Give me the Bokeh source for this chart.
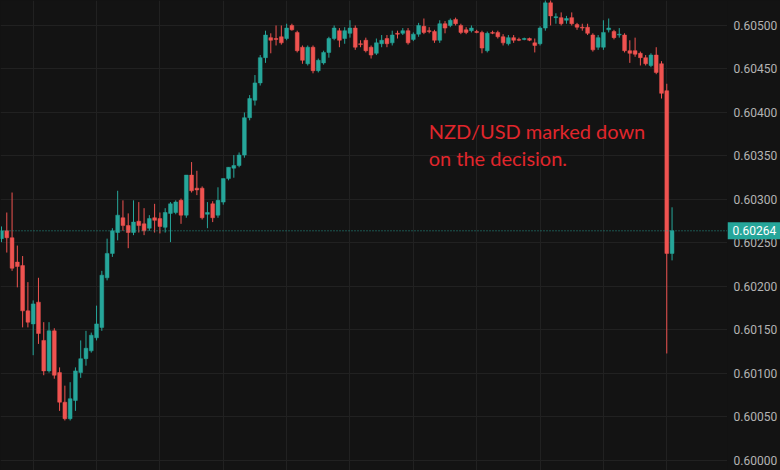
from bokeh.plotting import figure
from bokeh.layouts import row
from bokeh.models import ColumnDataSource, FixedTicker, Span, Label, Range1d
from bokeh.core.properties import value
from bokeh.embed import file_html
from bokeh.resources import INLINE

# ---- data (NZD/USD, 5-minute candles) ----
opens = [
    0.60255, 0.60264, 0.60256, 0.60228, 0.60224, 0.60172, 0.60157, 0.60182, 0.60138, 0.60103,
    0.60149, 0.60101, 0.60067, 0.60048, 0.60069, 0.60101, 0.60117, 0.60126, 0.60141, 0.60153,
    0.60210, 0.60238, 0.60262, 0.60279, 0.60270, 0.60262, 0.60275, 0.60272, 0.60267, 0.60279,
    0.60278, 0.60268, 0.60284, 0.60285, 0.60299, 0.60282, 0.60328, 0.60313, 0.60313, 0.60283,
    0.60295, 0.60282, 0.60297, 0.60324, 0.60336, 0.60339, 0.60351, 0.60394, 0.60414, 0.60434,
    0.60463, 0.60486, 0.60485, 0.60487, 0.60485, 0.60500, 0.60492, 0.60475, 0.60456, 0.60475,
    0.60448, 0.60457, 0.60469, 0.60485, 0.60494, 0.60485, 0.60491, 0.60497, 0.60479, 0.60483,
    0.60475, 0.60468, 0.60479, 0.60485, 0.60480, 0.60491, 0.60491, 0.60494, 0.60484, 0.60490,
    0.60499, 0.60494, 0.60493, 0.60483, 0.60502, 0.60500, 0.60507, 0.60500, 0.60495, 0.60494,
    0.60493, 0.60492, 0.60471, 0.60492, 0.60492, 0.60487, 0.60479, 0.60486, 0.60484, 0.60484,
    0.60485, 0.60480, 0.60479, 0.60497, 0.60526, 0.60509, 0.60509, 0.60506, 0.60509, 0.60501,
    0.60498, 0.60498, 0.60489, 0.60475, 0.60475, 0.60495, 0.60493, 0.60489, 0.60489, 0.60471,
    0.60471, 0.60468, 0.60463, 0.60454, 0.60466, 0.60456, 0.60425, 0.60238]
highs = [
    0.60269, 0.60285, 0.60308, 0.60247, 0.60235, 0.60205, 0.60184, 0.60210, 0.60159, 0.60159,
    0.60152, 0.60107, 0.60086, 0.60090, 0.60107, 0.60138, 0.60149, 0.60147, 0.60178, 0.60218,
    0.60255, 0.60267, 0.60310, 0.60299, 0.60284, 0.60299, 0.60297, 0.60290, 0.60282, 0.60295,
    0.60285, 0.60290, 0.60297, 0.60299, 0.60301, 0.60328, 0.60343, 0.60333, 0.60315, 0.60297,
    0.60298, 0.60314, 0.60324, 0.60337, 0.60351, 0.60354, 0.60400, 0.60420, 0.60443, 0.60466,
    0.60494, 0.60491, 0.60500, 0.60500, 0.60502, 0.60502, 0.60494, 0.60477, 0.60477, 0.60477,
    0.60462, 0.60471, 0.60487, 0.60500, 0.60497, 0.60498, 0.60506, 0.60500, 0.60483, 0.60486,
    0.60477, 0.60485, 0.60489, 0.60489, 0.60494, 0.60494, 0.60497, 0.60497, 0.60492, 0.60503,
    0.60508, 0.60498, 0.60495, 0.60506, 0.60505, 0.60508, 0.60509, 0.60502, 0.60498, 0.60500,
    0.60495, 0.60494, 0.60493, 0.60494, 0.60494, 0.60490, 0.60489, 0.60489, 0.60486, 0.60486,
    0.60486, 0.60485, 0.60499, 0.60531, 0.60534, 0.60514, 0.60515, 0.60511, 0.60515, 0.60503,
    0.60502, 0.60502, 0.60491, 0.60489, 0.60506, 0.60508, 0.60495, 0.60497, 0.60491, 0.60483,
    0.60486, 0.60470, 0.60466, 0.60468, 0.60475, 0.60459, 0.60433, 0.60291]
lows = [
    0.60251, 0.60239, 0.60218, 0.60199, 0.60153, 0.60153, 0.60121, 0.60134, 0.60098, 0.60101,
    0.60094, 0.60057, 0.60046, 0.60046, 0.60057, 0.60095, 0.60109, 0.60124, 0.60138, 0.60149,
    0.60207, 0.60234, 0.60253, 0.60264, 0.60244, 0.60259, 0.60262, 0.60259, 0.60264, 0.60262,
    0.60261, 0.60262, 0.60251, 0.60283, 0.60272, 0.60279, 0.60308, 0.60305, 0.60277, 0.60267,
    0.60274, 0.60279, 0.60294, 0.60322, 0.60325, 0.60337, 0.60348, 0.60391, 0.60408, 0.60431,
    0.60457, 0.60468, 0.60477, 0.60478, 0.60483, 0.60494, 0.60469, 0.60456, 0.60454, 0.60445,
    0.60446, 0.60455, 0.60463, 0.60483, 0.60475, 0.60479, 0.60486, 0.60472, 0.60475, 0.60469,
    0.60462, 0.60466, 0.60475, 0.60475, 0.60477, 0.60485, 0.60489, 0.60478, 0.60482, 0.60487,
    0.60490, 0.60491, 0.60480, 0.60480, 0.60491, 0.60498, 0.60500, 0.60490, 0.60490, 0.60492,
    0.60491, 0.60468, 0.60469, 0.60490, 0.60485, 0.60477, 0.60477, 0.60480, 0.60482, 0.60483,
    0.60482, 0.60469, 0.60477, 0.60494, 0.60500, 0.60502, 0.60500, 0.60502, 0.60500, 0.60495,
    0.60494, 0.60489, 0.60470, 0.60472, 0.60472, 0.60492, 0.60484, 0.60486, 0.60469, 0.60457,
    0.60464, 0.60454, 0.60454, 0.60452, 0.60444, 0.60416, 0.60123, 0.60230]
closes = [
    0.60264, 0.60256, 0.60221, 0.60223, 0.60172, 0.60159, 0.60180, 0.60146, 0.60103, 0.60149,
    0.60098, 0.60067, 0.60048, 0.60071, 0.60103, 0.60117, 0.60129, 0.60144, 0.60157, 0.60213,
    0.60238, 0.60264, 0.60282, 0.60270, 0.60262, 0.60274, 0.60270, 0.60264, 0.60278, 0.60276,
    0.60269, 0.60285, 0.60295, 0.60297, 0.60282, 0.60328, 0.60310, 0.60311, 0.60279, 0.60285,
    0.60279, 0.60299, 0.60324, 0.60337, 0.60339, 0.60351, 0.60394, 0.60416, 0.60434, 0.60463,
    0.60489, 0.60483, 0.60484, 0.60480, 0.60497, 0.60495, 0.60471, 0.60460, 0.60475, 0.60448,
    0.60460, 0.60469, 0.60485, 0.60497, 0.60483, 0.60494, 0.60497, 0.60475, 0.60478, 0.60471,
    0.60466, 0.60480, 0.60483, 0.60479, 0.60489, 0.60490, 0.60494, 0.60480, 0.60490, 0.60500,
    0.60492, 0.60493, 0.60483, 0.60502, 0.60497, 0.60506, 0.60502, 0.60492, 0.60492, 0.60497,
    0.60492, 0.60474, 0.60491, 0.60491, 0.60487, 0.60480, 0.60486, 0.60483, 0.60483, 0.60485,
    0.60483, 0.60477, 0.60497, 0.60526, 0.60511, 0.60510, 0.60502, 0.60508, 0.60502, 0.60498,
    0.60497, 0.60491, 0.60472, 0.60486, 0.60492, 0.60497, 0.60486, 0.60490, 0.60471, 0.60468,
    0.60467, 0.60463, 0.60456, 0.60466, 0.60446, 0.60422, 0.60238, 0.60264]

price_ticks = [0.60000, 0.60050, 0.60100, 0.60150, 0.60200, 0.60250,
               0.60300, 0.60350, 0.60400, 0.60450, 0.60500]
hour_marks = [6, 18, 30, 42, 54, 66, 78, 90, 102, 114, 126]
note_lines = ["NZD/USD marked down", "on the decision."]

# ---- style ----
BG = "#131313"
UP = "#26a69a"
DOWN = "#ef5350"
GRID = "#212121"
AXIS_TEXT = "#b4b4b4"
NOTE = "#e0262c"

idx = list(range(len(opens)))
colors = [UP if c >= o else DOWN for o, c in zip(opens, closes)]
src = ColumnDataSource(dict(
    x=idx, high=highs, low=lows,
    top=[max(o, c) for o, c in zip(opens, closes)],
    bottom=[min(o, c) for o, c in zip(opens, closes)],
    color=colors,
))

yr = Range1d(0.599885, 0.605287)

# main price pane
p = figure(width=727, height=470, output_backend="svg", toolbar_location=None,
           x_range=Range1d(-0.19, 137.5), y_range=yr, y_axis_location="right",
           background_fill_color=BG, border_fill_color=BG, min_border=0)
p.outline_line_color = None
p.xaxis.visible = False
p.yaxis.visible = False
p.xgrid.ticker = FixedTicker(ticks=hour_marks)
p.xgrid.grid_line_color = GRID
p.ygrid.ticker = FixedTicker(ticks=price_ticks)
p.ygrid.grid_line_color = GRID

p.segment(x0="x", y0="low", x1="x", y1="high", color="color", line_width=1, source=src)
p.vbar(x="x", width=0.72, top="top", bottom="bottom",
       fill_color="color", line_color="color", line_width=0.5, source=src)

last = closes[-1]
p.add_layout(Span(location=last, dimension="width", line_color=UP,
                  line_dash="1 2", line_width=1, line_alpha=0.9))

p.add_layout(Label(x=80.9, y=0.603790, text=note_lines[0], text_align="left",
                   text_baseline="alphabetic", text_color=NOTE, text_font="Lato",
                   text_font_size="20px"))
p.add_layout(Label(x=80.9, y=0.603480, text=note_lines[1], text_align="left",
                   text_baseline="alphabetic", text_color=NOTE, text_font="Lato",
                   text_font_size="20px"))

# price scale pane (shares the price range)
q = figure(width=53, height=470, output_backend="svg", toolbar_location=None,
           x_range=Range1d(0, 53), y_range=yr,
           x_axis_location=None, y_axis_location=None,
           background_fill_color=BG, border_fill_color=BG, min_border=0)
q.outline_line_color = None
q.grid.grid_line_color = None

q.text(x=[6] * len(price_ticks), y=price_ticks,
       text=[f"{t:.5f}" for t in price_ticks],
       text_baseline="middle", text_align="left", text_color=AXIS_TEXT,
       text_font=value("Roboto"), text_font_size="12px")
q.rect(x=[26.5], y=[last], width=53, height=17, height_units="screen",
       fill_color=UP, line_color=None)
q.text(x=[5], y=[last], text=[f"{last:.5f}"], text_baseline="middle",
       text_align="left", text_color="white",
       text_font=value("Roboto"), text_font_size="12px")

layout = row(p, q)

tmpl = "{% block preamble %}<style>html, body { background: #131313; }</style>{% endblock %}"
open("out.html", "w").write(file_html(layout, INLINE, template=tmpl))
